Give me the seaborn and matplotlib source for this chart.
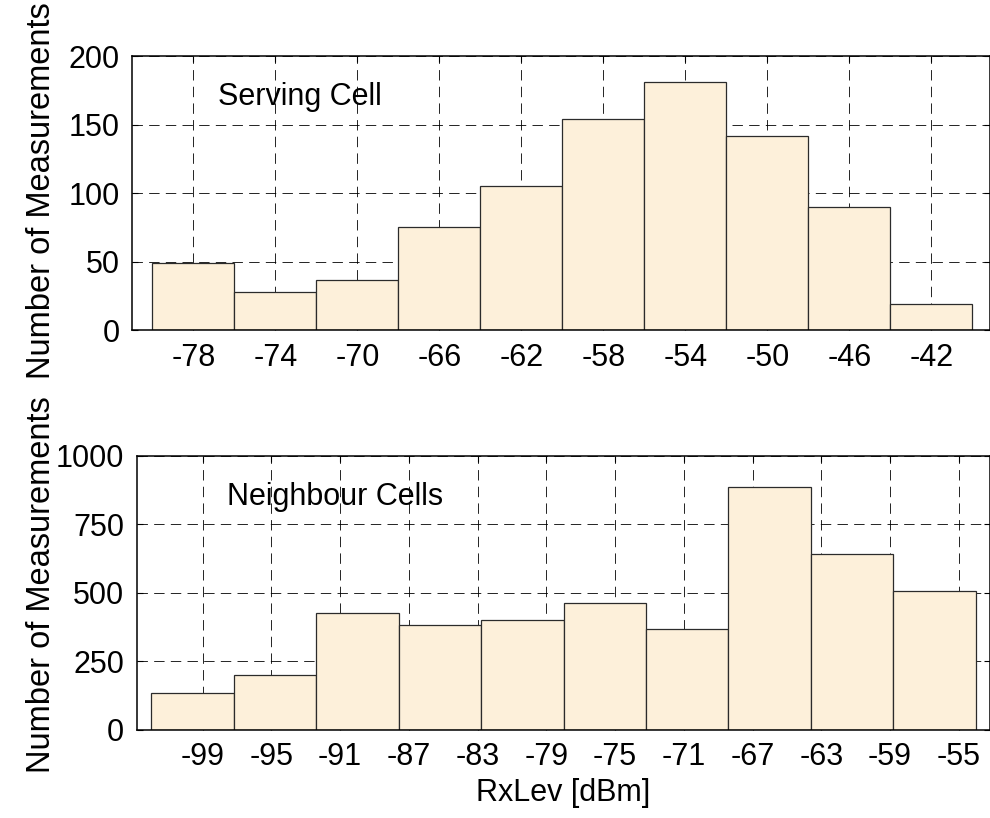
import matplotlib
matplotlib.use("Agg")
import matplotlib.pyplot as plt
import seaborn as sns

# Serving cell RxLev histogram (bin centres in dBm, counts)
serving_centers = [-78, -74, -70, -66, -62, -58, -54, -50, -46, -42]
serving_counts = [49, 28, 37, 75, 105, 154, 181, 142, 90, 19]
serving_ticks = [-78, -74, -70, -66, -62, -58, -54, -50, -46, -42]

# Neighbour cells RxLev histogram
neighbour_centers = [-99.6, -94.8, -90.0, -85.2, -80.4, -75.6, -70.8, -66.0, -61.2, -56.4]
neighbour_counts = [134, 199, 428, 382, 400, 464, 369, 887, 642, 508]
neighbour_ticks = [-99, -95, -91, -87, -83, -79, -75, -71, -67, -63, -59, -55]

serving_yticks = [0, 50, 100, 150, 200]
neighbour_yticks = [0, 250, 500, 750, 1000]

sns.set_style("ticks")
plt.rcParams["font.family"] = ["Liberation Sans", "DejaVu Sans"]
plt.rcParams["lines.scale_dashes"] = False
plt.rcParams["axes.unicode_minus"] = False
plt.rcParams["text.color"] = "black"
plt.rcParams["axes.labelcolor"] = "black"
plt.rcParams["xtick.color"] = "black"
plt.rcParams["ytick.color"] = "black"

FILL = "#FDF0DA"
EDGE = "#2b2b2b"
FS = 22
LABEL_FS = 23.5

fig = plt.figure(figsize=(9.9, 8.18), dpi=100)
ax1 = fig.add_axes([0.1333, 0.5962, 0.8662, 0.3353])
ax2 = fig.add_axes([0.1381, 0.1076, 0.8614, 0.3353])


def draw(ax, centers, counts, binwidth, binrange, xticks, yticks, xlim, label, label_xy):
    sns.histplot(x=centers, weights=counts, binwidth=binwidth, binrange=binrange,
                 color=FILL, alpha=1, edgecolor=EDGE, linewidth=0.9, ax=ax)
    ax.set_axisbelow(True)
    ax.grid(True, color="black", linestyle=(0, (7.5, 4.5)), linewidth=0.6)
    ax.set_xlim(*xlim)
    ax.set_ylim(yticks[0], yticks[-1])
    ax.set_xticks(xticks)
    ax.set_yticks(yticks)
    ax.tick_params(direction="in", top=True, right=True, length=4, width=0.8,
                   labelsize=FS, pad=9)
    for sp in ax.spines.values():
        sp.set_visible(True)
        sp.set_linewidth(1.1)
        sp.set_color("black")
    ax.set_ylabel("Number of Measurements", fontsize=LABEL_FS)
    ax.set_xlabel("")
    ax.text(label_xy[0], label_xy[1], label, fontsize=FS, ha="left", va="center")


draw(ax1, serving_centers, serving_counts, 4, (-80, -40), serving_ticks,
     serving_yticks, (-81, -39.16), "Serving Cell", (-76.8, 170))
draw(ax2, neighbour_centers, neighbour_counts, 4.8, (-102, -54), neighbour_ticks,
     neighbour_yticks, (-102.84, -53.21), "Neighbour Cells", (-97.6, 850))
ax1.yaxis.set_label_coords(-0.0874, 0.508)
ax2.yaxis.set_label_coords(-0.0934, 0.529)
ax2.set_xlabel("RxLev [dBm]", fontsize=FS, labelpad=4)

fig.savefig("out.png", dpi=100)
